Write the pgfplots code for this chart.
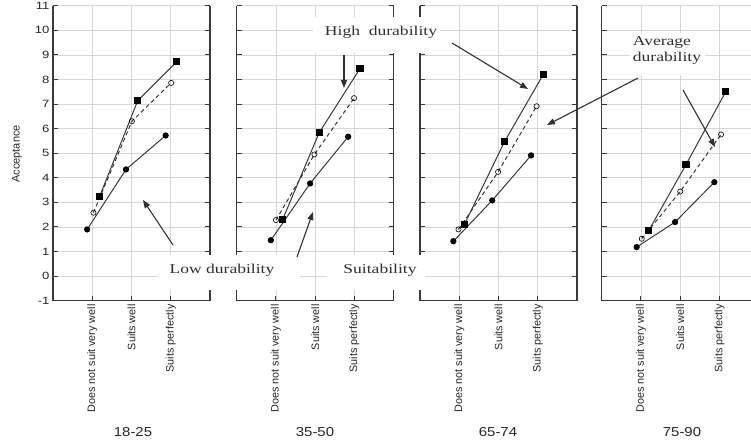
\documentclass[border=0pt]{standalone}
\usepackage{fontspec}
\setmainfont{Liberation Serif}
\usepackage{pgfplots}
\pgfplotsset{compat=1.18}
\usetikzlibrary{arrows.meta}
\newfontfamily\tickfont[FakeStretch=1.25]{Liberation Sans}
\newfontfamily\labfont{Liberation Sans}
\newfontfamily\grpfont[FakeStretch=1.15]{Liberation Sans}
\newfontfamily\annfont[FakeStretch=1.3]{Liberation Serif}
\definecolor{gridc}{HTML}{D6D6D6}
\definecolor{linec}{HTML}{383838}
\definecolor{framec}{HTML}{3A3A3A}
\definecolor{annc}{HTML}{303030}

\pgfplotsset{
 panel/.style={
   scale only axis, width=157pt, height=295pt,
   xmin=0, xmax=4, ymin=-1, ymax=11,
   xtick={1,2,3}, ytick={-1,0,...,11},
   xticklabels={Does not suit very well, Suits well, Suits perfectly},
   axis x line*=bottom, axis y line*=box,
   grid=major, major grid style={gridc, line width=0.7pt},
   axis line style={framec, line width=1.3pt},
   tick style={framec, line width=1pt},
   major tick length=5pt,
   x tick label style={rotate=90, anchor=east, font=\labfont\fontsize{10.8}{12}\selectfont, inner sep=3.5pt, text=black!85},
   y tick label style={font=\tickfont\fontsize{10.5}{12}\selectfont, text=black!85},
   /pgf/number format/assume math mode=true,
   clip=false,
 },
 low/.style={linec, line width=1pt, mark=*, mark size=2.6pt, mark options={fill=black, draw=black}},
 high/.style={linec, line width=1pt, mark=square*, mark size=3.1pt, mark options={fill=black, draw=black}},
 avg/.style={linec, line width=1pt, dash pattern=on 4pt off 3pt, mark=o, mark size=2.6pt, mark options={solid, fill=white, draw=black, line width=0.6pt}},
}

\begin{document}
\begin{tikzpicture}
\path[use as bounding box] (0pt,0pt) rectangle (751pt,445pt);

% Panel 1: 18-25
\begin{axis}[panel, at={(53pt,144.3pt)}, anchor=south west]
\addplot[low] coordinates {(0.87,1.90) (1.86,4.34) (2.87,5.72)};
\addplot[avg] coordinates {(1.03,2.58) (2.01,6.30) (3.01,7.86)};
\addplot[high] coordinates {(1.19,3.25) (2.16,7.14) (3.15,8.72)};
\end{axis}

% Panel 2: 35-50
\begin{axis}[panel, yticklabels={}, at={(236.7pt,144.3pt)}, anchor=south west]
\addplot[low] coordinates {(0.87,1.46) (1.87,3.77) (2.84,5.67)};
\addplot[avg] coordinates {(1.00,2.28) (1.98,4.95) (2.99,7.24)};
\addplot[high] coordinates {(1.17,2.30) (2.10,5.83) (3.14,8.44)};
\end{axis}

% Panel 3: 65-74
\begin{axis}[panel, yticklabels={}, at={(420pt,144.3pt)}, anchor=south west]
\addplot[low] coordinates {(0.85,1.42) (1.84,3.08) (2.83,4.91)};
\addplot[avg] coordinates {(0.98,1.90) (1.99,4.24) (2.97,6.91)};
\addplot[high] coordinates {(1.13,2.10) (2.15,5.46) (3.14,8.20)};
\end{axis}

% Panel 4: 75-90
\begin{axis}[panel, yticklabels={}, at={(601.7pt,144.3pt)}, anchor=south west]
\addplot[low] coordinates {(0.89,1.18) (1.87,2.20) (2.87,3.82)};
\addplot[avg] coordinates {(1.02,1.52) (2.00,3.44) (3.04,5.76)};
\addplot[high] coordinates {(1.20,1.86) (2.15,4.54) (3.16,7.50)};
\end{axis}

% axis label and group labels
\node[rotate=90, font=\labfont\fontsize{11}{13}\selectfont, text=black!85] at (17pt,291pt) {Acceptance};
\node[font=\grpfont\fontsize{13}{15}\selectfont, text=black!85] at (133pt,13pt) {18-25};
\node[font=\grpfont\fontsize{13}{15}\selectfont, text=black!85] at (315pt,13pt) {35-50};
\node[font=\grpfont\fontsize{13}{15}\selectfont, text=black!85] at (498pt,13pt) {65-74};
\node[font=\grpfont\fontsize{13}{15}\selectfont, text=black!85] at (682pt,13pt) {75-90};

% white boxes for annotations
\fill[white] (157pt,155pt) rectangle (300pt,190pt);
\fill[white] (327pt,155pt) rectangle (425pt,190pt);
\fill[white] (313pt,392pt) rectangle (440pt,428pt);
\fill[white] (630pt,370pt) rectangle (705pt,412pt);

\node[font=\annfont\fontsize{13.5}{15}\selectfont, text=annc] at (222pt,175pt) {Low durability};
\node[font=\annfont\fontsize{13.5}{15}\selectfont, text=annc] at (380pt,175pt) {Suitability};
\node[font=\annfont\fontsize{13.5}{15}\selectfont, text=annc] at (381pt,413pt) {High\ \ durability};
\node[font=\annfont\fontsize{13.5}{16}\selectfont, text=annc, align=left] at (667pt,394pt) {Average\\durability};

% arrows
\begin{scope}[annc, line width=1.1pt, -{Triangle[length=8pt,width=6pt]}]
\draw (173pt,200pt) -- (143pt,245pt);
\draw (297pt,188pt) -- (313pt,233pt);
\draw (344pt,390pt) -- (344pt,357pt);
\draw (452pt,402pt) -- (528pt,356pt);
\draw (638pt,367pt) -- (547pt,320pt);
\draw (683pt,355pt) -- (715pt,298pt);
\end{scope}
\end{tikzpicture}
\end{document}
